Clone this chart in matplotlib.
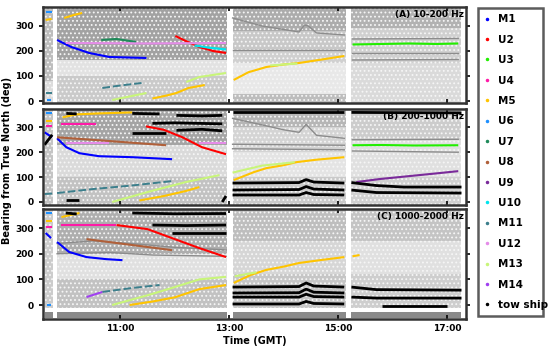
import numpy as np
import matplotlib
matplotlib.use("Agg")
from matplotlib import pyplot as plt
from matplotlib.lines import Line2D

plt.rcParams['hatch.linewidth'] = 0.8

# time in decimal hours (GMT), bearing in degrees
segments = [(9.61, 9.77), (9.84, 12.96), (13.06, 15.15), (15.24, 17.26)]

sources = ['M1', 'U2', 'U3', 'U4', 'M5', 'U6', 'U7', 'U8', 'U9', 'U10',
           'M11', 'U12', 'M13', 'M14', 'tow ship']
colors = ['#0000ff', '#ff0000', '#22ee00', '#ff1aa8', '#ffc400', '#1e90ff',
          '#1f8a5a', '#b0603a', '#7a2a9a', '#00e5ee', '#3c7f8c', '#e58ce8',
          '#c8f57a', '#a040f0', '#000000']

# ---- panel A: 10-200 Hz
a_u6 = [([9.63, 9.75], [356, 356]), ([9.65, 9.72], [4, 4])]
a_m5 = [([9.63, 9.74], [324, 328]), ([9.97, 10.15, 10.30], [332, 344, 352]),
        ([11.59, 11.85, 12.03, 12.25, 12.45, 12.55], [10, 22, 32, 52, 60, 64]),
        ([13.08, 13.35, 13.68, 14.0, 14.28, 14.7, 15.11], [84, 115, 136, 146, 152, 166, 180])]
a_u12 = [([10.0, 11.5, 12.94], [232, 230, 232])]
a_u7 = [([10.65, 10.93, 11.29], [244, 248, 236])]
a_m1 = [([9.84, 10.10, 10.43, 10.80, 11.48], [244, 216, 192, 176, 172])]
a_u2 = [([12.01, 12.20, 12.45, 12.70, 12.94], [260, 240, 216, 200, 192])]
a_u10 = [([12.36, 12.6, 12.94], [222, 214, 206])]
a_m11 = [([9.63, 9.74], [32, 32]), ([10.67, 11.0, 11.39], [52, 62, 72])]
a_m13 = [([10.85, 11.48], [4, 32]), ([12.21, 12.45, 12.94], [76, 96, 112]),
         ([13.75, 14.0, 14.25], [142, 146, 150])]
a_u3 = [([15.26, 15.8, 16.3, 16.8, 17.2], [226, 228, 230, 228, 230])]
a_grey = [([13.06, 13.6, 14.28, 14.38, 14.45, 14.6, 15.11], [332, 300, 276, 304, 300, 272, 264]),
          ([15.26, 17.2], [248, 250]), ([15.26, 17.2], [192, 192]), ([15.26, 17.2], [164, 166]),
          ([13.06, 15.11], [205, 205])]
a_ship = []

# ---- panel B: 200-1000 Hz
b_u6 = [([9.63, 9.74], [356, 356])]
b_m5 = [([9.63, 9.74], [324, 324]), ([9.94, 10.19, 10.61, 11.22], [340, 352, 356, 360]),
        ([11.35, 11.8, 12.2, 12.45], [6, 24, 44, 60]),
        ([13.08, 13.45, 13.68, 14.0, 14.23, 14.6, 15.11], [88, 120, 136, 148, 160, 170, 180])]
b_u4 = [([9.63, 9.74], [304, 304]), ([9.92, 10.56], [312, 312])]
b_m1 = [([9.61, 9.75], [280, 260]), ([9.84, 10.01, 10.25, 10.61, 11.22, 11.95], [256, 220, 196, 184, 180, 172])]
b_u8 = [([9.84, 10.61, 11.84], [260, 248, 228])]
b_u12 = [([10.01, 10.80], [236, 236]), ([12.45, 12.94], [236, 236])]
b_m11 = [([9.61, 9.75], [32, 34]), ([9.84, 10.5, 11.2, 11.95], [36, 52, 66, 84])]
b_m13 = [([10.85, 11.5, 12.2, 12.82], [0, 40, 80, 108]), ([13.06, 13.6, 14.2], [118, 146, 160])]
b_u2 = [([11.47, 11.8, 12.14, 12.5, 12.94], [304, 290, 260, 220, 192])]
b_u9 = [([15.33, 15.75, 16.3, 16.85, 17.2], [80, 92, 104, 116, 124])]
b_u3 = [([15.26, 15.8, 16.4, 17.2], [228, 229, 227, 228])]
b_ship = [([9.61, 9.68, 9.75], [230, 250, 270]), ([10.01, 10.2], [356, 354]),
          ([11.22, 11.72], [356, 354]), ([12.03, 12.5, 12.87], [348, 346, 348]),
          ([11.59, 12.0, 12.87], [316, 318, 314]), ([12.03, 12.5, 12.87], [288, 292, 286]),
          ([11.22, 11.84], [276, 276]), ([10.0, 10.25], [6, 6]), ([12.87, 12.94], [0, 24]),
          ([13.06, 14.28, 14.41, 14.55, 15.11], [76, 78, 90, 80, 76]),
          ([13.06, 14.28, 14.41, 14.55, 15.11], [48, 50, 62, 52, 48]),
          ([13.06, 14.28, 14.41, 14.55, 15.11], [28, 28, 38, 30, 28]),
          ([13.06, 15.11], [362, 362]), ([15.24, 17.26], [360, 358]),
          ([15.24, 15.7, 16.2, 17.26], [78, 66, 60, 60]),
          ([15.24, 15.7, 17.26], [48, 38, 36])]
b_grey = [([13.06, 13.6, 14.0, 14.28, 14.41, 14.6, 15.11], [336, 310, 290, 280, 312, 268, 256]),
          ([13.06, 15.11], [232, 228]), ([13.06, 15.11], [214, 210]),
          ([15.26, 17.2], [250, 252]), ([15.26, 17.2], [205, 200])]

# ---- panel C: 1000-2000 Hz
c_u6 = [([9.63, 9.75], [359, 359]), ([9.65, 9.72], [0, 0])]
c_m5 = [([9.63, 9.74], [328, 328]), ([9.92, 10.1, 10.25], [343, 352, 359]),
        ([11.17, 11.6, 12.0, 12.45, 12.94], [0, 14, 30, 62, 78]),
        ([13.08, 13.4, 13.68, 14.0, 14.28, 14.7, 15.11], [86, 118, 137, 150, 164, 176, 187]),
        ([15.26, 15.39], [190, 195])]
c_u4 = [([9.63, 9.74], [304, 304]), ([9.92, 10.93], [312, 312])]
c_u2 = [([10.93, 11.5, 11.95, 12.45, 12.94], [312, 296, 261, 222, 187])]
c_m1 = [([9.63, 9.73], [281, 261]), ([9.84, 10.06, 10.38, 10.74, 11.04], [246, 207, 187, 179, 175])]
c_u8 = [([10.38, 11.22, 11.95], [257, 234, 214])]
c_m14 = [([10.38, 10.67], [31, 51])]
c_m11 = [([10.67, 11.2, 11.72], [51, 66, 78])]
c_m13 = [([10.85, 11.5, 12.0, 12.45, 12.94], [0, 38, 70, 100, 110]), ([13.1, 13.5], [112, 128])]
c_ship = [([10.0, 10.2], [359, 355]), ([11.22, 12.0, 12.94], [359, 356, 357]),
          ([11.59, 12.2, 12.94], [312, 310, 312]), ([11.95, 12.94], [281, 281]),
          ([13.06, 14.28, 14.41, 14.55, 15.11], [70, 72, 86, 74, 70]),
          ([13.06, 14.28, 14.41, 14.55, 15.11], [47, 48, 62, 50, 47]),
          ([13.06, 14.28, 14.41, 14.55, 15.11], [31, 31, 42, 33, 31]),
          ([13.06, 14.28, 14.41, 14.55, 15.11], [4, 4, 14, 6, 4]),
          ([15.24, 15.7, 17.26], [70, 60, 58]), ([15.24, 15.7, 17.26], [31, 27, 27]),
          ([15.8, 17.0], [-4, -4])]
c_grey = [([9.84, 10.5, 11.2, 12.0, 12.94], [240, 250, 240, 225, 215]),
          ([9.84, 10.8, 11.6, 12.94], [200, 205, 195, 190])]

panels = [
    ('(A) 10-200 Hz', (-8, 376), {
        'U6': a_u6, 'M5': a_m5, 'U12': a_u12, 'U7': a_u7, 'M1': a_m1, 'U2': a_u2,
        'U10': a_u10, 'M11': a_m11, 'M13': a_m13, 'U3': a_u3, 'tow ship': a_ship}, a_grey,
     [[(80, 376, '#bdbdbd'), (-8, 80, '#dcdcdc')],
      [(165, 376, '#a2a2a2'), (100, 165, '#e2e2e2'), (-8, 100, '#cacaca')],
      [(280, 376, '#acacac'), (200, 280, '#c8c8c8'), (150, 200, '#d0d0d0'), (30, 150, '#e8e8e8'), (-8, 30, '#bdbdbd')],
      [(290, 376, '#b2b2b2'), (150, 290, '#d0d0d0'), (-8, 150, '#dadada')]]),
    ('(B) 200-1000 Hz', (-12, 374), {
        'U6': b_u6, 'M5': b_m5, 'U4': b_u4, 'M1': b_m1, 'U8': b_u8, 'U12': b_u12,
        'M11': b_m11, 'M13': b_m13, 'U2': b_u2, 'U9': b_u9, 'U3': b_u3, 'tow ship': b_ship}, b_grey,
     [[(-12, 374, '#c4c4c4')],
      [(230, 374, '#a4a4a4'), (100, 230, '#dadada'), (-12, 100, '#c2c2c2')],
      [(300, 374, '#b6b6b6'), (200, 300, '#d4d4d4'), (100, 200, '#e4e4e4'), (-12, 100, '#cacaca')],
      [(250, 374, '#cccccc'), (100, 250, '#e0e0e0'), (-12, 100, '#d0d0d0')]]),
    ('(C) 1000-2000 Hz', (-55, 374), {
        'U6': c_u6, 'M5': c_m5, 'U4': c_u4, 'U2': c_u2, 'M1': c_m1, 'U8': c_u8,
        'M14': c_m14, 'M11': c_m11, 'M13': c_m13, 'tow ship': c_ship}, c_grey,
     [[(-10, 374, '#cccccc')],
      [(200, 374, '#aeaeae'), (100, 200, '#e0e0e0'), (-10, 100, '#c2c2c2')],
      [(250, 374, '#bebebe'), (120, 250, '#d6d6d6'), (-10, 120, '#c6c6c6')],
      [(250, 374, '#c4c4c4'), (120, 250, '#e0e0e0'), (-10, 120, '#cecece')]]),
]

fig = plt.figure(figsize=(5.5, 3.48), dpi=100)
boxes = [[0.078, 0.704, 0.770, 0.276], [0.078, 0.411, 0.770, 0.276], [0.078, 0.083, 0.770, 0.316]]
col = dict(zip(sources, colors))

for i, (title, ylim, tracks, grey, bands) in enumerate(panels):
    ax = fig.add_axes(boxes[i])
    for (t0, t1), seg_bands in zip(segments, bands):
        for lo, hi, c in seg_bands:
            # grey detections with white speckle
            ax.fill_between([t0, t1], lo, hi, facecolor=c, edgecolor='#f6f6f6',
                            hatch='....', lw=0)
    for t, b in grey:
        ax.plot(t, b, color='#8c8c8c', lw=1.0)
    if i == 2:
        for t0, t1 in segments:
            ax.fill_between([t0, t1], -50, -28, color='#8a8a8a', lw=0)
    for name in sources:
        if name not in tracks:
            continue
        for t, b in tracks[name]:
            if name == 'tow ship':
                ax.plot(t, b, color='k', lw=2.0, solid_capstyle='butt')
            elif name == 'M11':
                ax.plot(t, b, color=col[name], lw=1.4, ls=(0, (4, 1.5)))
            else:
                ax.plot(t, b, color=col[name], lw=1.5, solid_capstyle='butt')
    ax.set_xlim(9.58, 17.35)
    ax.set_ylim(*ylim)
    ax.set_yticks([0, 100, 200, 300])
    ax.set_xticks([11, 13, 15, 17])
    ax.tick_params(axis='y', which='both', left=True, right=True, labelsize=6.5, width=1.2, length=3)
    ax.tick_params(axis='x', direction='in', top=True, bottom=True, length=3, width=1.2)
    for lab in ax.get_yticklabels():
        lab.set_fontweight('bold')
    if i < 2:
        ax.set_xticklabels([])
    else:
        ax.set_xticklabels(['11:00', '13:00', '15:00', '17:00'], fontsize=6.5, fontweight='bold')
        ax.set_xlabel('Time (GMT)', fontsize=7, fontweight='bold', labelpad=2)
    for s in ax.spines.values():
        s.set_linewidth(1.8)
        s.set_color('#333333')
    ax.text(0.995, 0.97, title, transform=ax.transAxes, ha='right', va='top',
            fontsize=6.5, fontweight='bold')

fig.text(0.012, 0.54, 'Bearing from True North (deg)', rotation=90, ha='center', va='center',
         fontsize=7, fontweight='bold')

handles = [Line2D([], [], ls='none', marker='.', ms=3, color=c) for c in colors]
leg = fig.legend(handles, sources, loc='upper left', bbox_to_anchor=(0.869, 0.083, 0.118, 0.894),
                 mode='expand', borderaxespad=0, fancybox=False, handlelength=0.6,
                 labelspacing=1.0, borderpad=0.6, handletextpad=0.7,
                 prop={'weight': 'bold', 'size': 7.5})
leg.get_frame().set_edgecolor('#333333')
leg.get_frame().set_linewidth(1.8)

fig.savefig('out.png', dpi=100)
